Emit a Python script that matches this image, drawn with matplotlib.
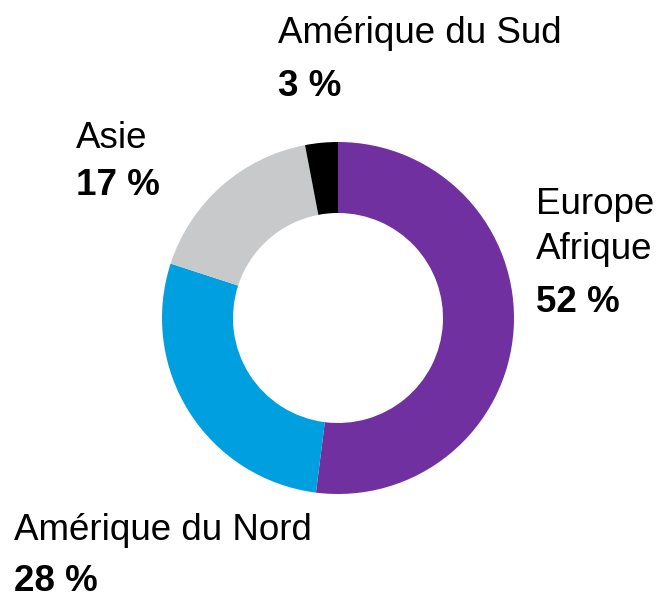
import matplotlib.pyplot as plt

plt.rcParams['font.family'] = ['Liberation Sans', 'DejaVu Sans']

regions = ['Europe\nAfrique', 'Amérique du Nord', 'Asie', 'Amérique du Sud']
shares = [52, 28, 17, 3]
colors = ['#7030a0', '#009fdf', '#c8c9cb', '#000000']

W, H = 660, 597
fig = plt.figure(figsize=(6.6, 5.97), dpi=100)
ax = fig.add_axes([0, 0, 1, 1])
ax.set_xlim(0, W)
ax.set_ylim(0, H)
ax.set_aspect('equal')
ax.axis('off')

ax.pie(shares, colors=colors, startangle=90, counterclock=False,
       center=(338, H - 318), radius=176, frame=True,
       wedgeprops=dict(width=71, linewidth=0))
ax.set_xlim(0, W)
ax.set_ylim(0, H)
ax.axis('off')

fs = 26.5
# label name lines (baseline y in pixels from top) and value line
labels = [
    (536, [214, 259], 312, 'Europe\nAfrique', shares[0]),
    (14, [540], 591, 'Amérique du Nord', shares[1]),
    (76, [148], 195, 'Asie', shares[2]),
    (278, [43], 96, 'Amérique du Sud', shares[3]),
]
for x, name_ys, val_y, name, val in labels:
    for line, y in zip(name.split('\n'), name_ys):
        ax.text(x, H - y, line, fontsize=fs, ha='left', va='baseline', color='#000000')
    ax.text(x, H - val_y, f'{val} %', fontsize=fs, fontweight='bold',
            ha='left', va='baseline', color='#000000')

fig.savefig('out.png', dpi=100)
